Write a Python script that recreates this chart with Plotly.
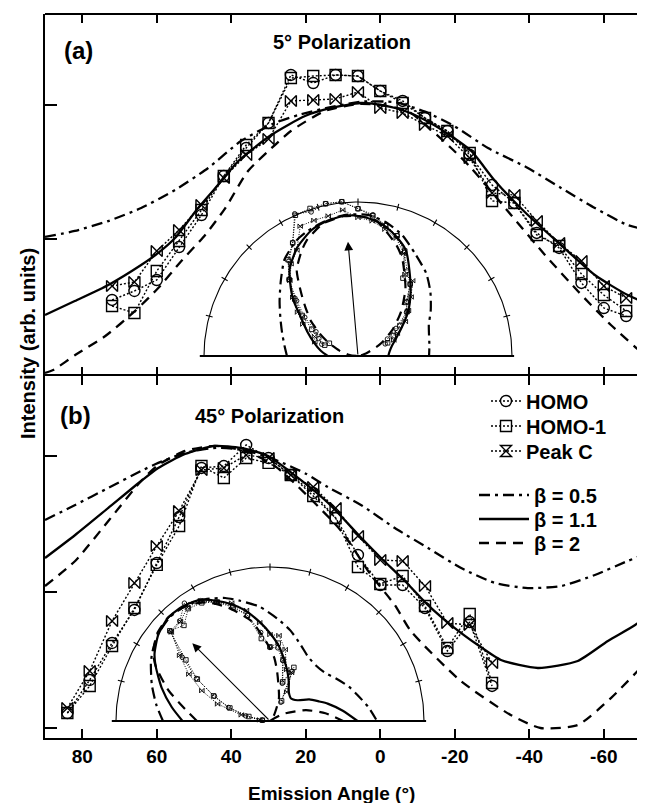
import numpy as np
import plotly.graph_objects as go

# ---------------- data : panel (a) 5 deg polarization ----------------
ang_a = [72, 66, 60, 54, 48, 42, 36, 30, 24, 18, 12, 6, 0, -6, -12, -18, -24, -30, -36, -42, -48, -54, -60, -66]
homo_a = [0.545, 0.612, 0.694, 0.940, 1.179, 1.470, 1.679, 1.866, 2.224, 2.164, 2.224, 2.216, 2.104, 2.030,
          1.903, 1.806, 1.627, 1.403, 1.269, 1.045, 0.933, 0.672, 0.485, 0.425]
homo1_a = [0.500, 0.448, 0.761, 0.985, 1.216, 1.470, 1.701, 1.866, 2.201, 2.216, 2.224, 2.216, 2.104, 2.015,
           1.903, 1.806, 1.642, 1.284, 1.269, 1.030, 0.948, 0.739, 0.582, 0.463]
peakc_a = [0.649, 0.679, 0.910, 1.067, 1.254, 1.455, 1.627, 1.746, 2.030, 2.037, 2.045, 2.097, 1.978, 1.940,
           1.851, 1.769, 1.604, 1.343, 1.328, 1.134, 0.970, 0.836, 0.649, 0.560]

b05_a_ang = [90, 82, 73, 64.2, 55.1, 46.2, 37.4, 28.3, 22, 14, 5, -4, -12, -20, -28.9, -39.6, -48.5, -57.6, -66.4, -73.1, -82, -90]
b05_a_val = [1.015, 1.06, 1.134, 1.231, 1.366, 1.53, 1.731, 1.866, 1.925, 1.98, 2.025, 2.02, 1.95, 1.84, 1.679,
             1.53, 1.381, 1.231, 1.104, 1.06, 1.03, 1.015]
b11_a_ang = [90, 82, 73, 64.2, 59.6, 55.1, 48.9, 42.7, 38.1, 29.3, 20.2, 13.2, 5.2, -0.2, -6.6, -12, -19, -24.4,
             -30.8, -39.6, -48.5, -57.6, -66.4, -73.1, -82, -90]
b11_a_val = [0.433, 0.537, 0.657, 0.806, 0.896, 1.007, 1.231, 1.43, 1.582, 1.776, 1.918, 1.978, 2.015, 2.0, 1.955,
             1.888, 1.769, 1.657, 1.433, 1.179, 0.955, 0.731, 0.582, 0.507, 0.455, 0.433]
b20_a_ang = [90, 87.8, 81.9, 73.8, 65.8, 59.6, 53.4, 47, 41.6, 35.5, 28.3, 24, 14.9, 6, 0, -7.4, -19, -24.4,
             -35.1, -44.2, -53, -61.9, -71, -73.2, -82, -90]
b20_a_val = [0.0, 0.022, 0.134, 0.276, 0.463, 0.634, 0.836, 1.03, 1.231, 1.507, 1.701, 1.806, 1.955, 2.007, 2.0,
             1.955, 1.679, 1.53, 1.179, 0.881, 0.612, 0.358, 0.134, 0.097, 0.03, 0.0]

# ---------------- data : panel (b) 45 deg polarization ----------------
ang_b = [84, 78, 72, 66, 60, 54, 48, 42, 36, 30, 24, 18, 12, 6, 0, -6, -12, -18, -24, -30]
homo_b = [0.110, 0.353, 0.625, 0.868, 1.213, 1.551, 1.912, 1.926, 2.081, 1.985, 1.860, 1.728, 1.544, 1.272,
          1.051, 1.051, 0.882, 0.566, 0.779, 0.309]
homo1_b = [0.110, 0.309, 0.603, 0.882, 1.199, 1.485, 1.926, 1.838, 1.985, 1.949, 1.860, 1.706, 1.544, 1.184,
           1.059, 1.118, 0.897, 0.588, 0.838, 0.331]
peakc_b = [0.147, 0.419, 0.787, 1.066, 1.338, 1.596, 1.897, 1.912, 2.007, 1.985, 1.860, 1.772, 1.618, 1.412,
           1.235, 1.228, 1.044, 0.772, 0.757, 0.478]

b05_b_ang = [90, 81.9, 73, 64.2, 59.6, 52.4, 44, 36, 28, 20, 14, 5.2, -3.9, -12.8, -21.7, -30.8, -39.6, -48.5,
             -57.6, -66.4, -73.2, -82, -90]
b05_b_val = [1.529, 1.64, 1.765, 1.89, 1.949, 2.022, 2.06, 2.04, 1.97, 1.87, 1.77, 1.64, 1.47, 1.324, 1.176,
             1.066, 1.029, 1.044, 1.125, 1.228, 1.301, 1.42, 1.529]
b11_b_ang = [90, 81.9, 73, 64.2, 59.6, 52.4, 44.4, 37.4, 30.1, 24, 18, 12.7, 5.2, -0.2, -6.6, -12.8, -20, -26.2,
             -32.4, -42.3, -53, -61.1, -68.4, -73.2, -82, -90]
b11_b_val = [1.25, 1.419, 1.618, 1.816, 1.912, 2.015, 2.074, 2.059, 2.0, 1.88, 1.75, 1.62, 1.40, 1.25, 1.081,
             0.904, 0.735, 0.61, 0.5, 0.441, 0.493, 0.64, 0.757, 0.86, 1.05, 1.25]
b20_b_ang = [90, 81.9, 73, 64.2, 59.6, 52.4, 44.4, 35.5, 28, 20, 10.5, 2.5, -3.9, -8.2, -21.6, -35, -43, -53,
             -61.9, -73.2, -82, -90]
b20_b_val = [1.044, 1.228, 1.522, 1.816, 1.934, 2.037, 2.074, 2.03, 1.92, 1.72, 1.449, 1.125, 0.904, 0.713,
             0.346, 0.096, 0.0, 0.022, 0.22, 0.537, 0.8, 1.044]

x_ticks = [80, 60, 40, 20, 0, -20, -40, -60]
x_ticktext = ["80", "60", "40", "20", "0", "-20", "-40", "-60"]
pol_a, pol_b = 5, 45          # polarization angles (deg)
arrow_len_a, arrow_len_b = 1.64, 1.57
inset_radius = 2.2

# ---------------- layout geometry (pixels) ----------------
W, H = 645, 803
L, R, T, B = 37, 645, 6, 730
def px_x(px):
    return (px - L) / (R - L)
def px_y(py):
    return (B - py) / (B - T)

FONT = "Liberation Sans, Arial, sans-serif"
def fnt(size):
    return dict(family=FONT, size=size, color="black", weight="bold")

DOT = "2px,2px"
DASH = "10px,7px"
DASHDOT = "11px,5px,3px,5px"

fig = go.Figure()

def theory(ang, val, dash, name, xa, ya, legend=None, width=2.3):
    fig.add_trace(go.Scatter(x=ang, y=val, mode="lines", name=name, xaxis=xa, yaxis=ya,
                             line=dict(color="black", width=width, dash=dash, shape="spline", smoothing=0.6),
                             showlegend=legend is not None, legend=legend or "legend", hoverinfo="skip"))

def data(ang, val, sym, name, xa, ya, legend=None, size=11, lw=1.4):
    fig.add_trace(go.Scatter(x=ang, y=val, mode="lines+markers", name=name, xaxis=xa, yaxis=ya,
                             line=dict(color="black", width=1.4, dash=DOT),
                             marker=dict(symbol=sym, size=size, color="black", line=dict(width=lw, color="black")),
                             showlegend=legend is not None, legend=legend or "legend", hoverinfo="skip"))

# --- main panel curves
theory(b05_a_ang, b05_a_val, DASHDOT, "β = 0.5", "x", "y", "legend4")
theory(b11_a_ang, b11_a_val, "solid", "β = 1.1", "x", "y", "legend5")
theory(b20_a_ang, b20_a_val, DASH, "β = 2", "x", "y", "legend6")
theory(b05_b_ang, b05_b_val, DASHDOT, "β = 0.5", "x2", "y2")
theory(b11_b_ang, b11_b_val, "solid", "β = 1.1", "x2", "y2")
theory(b20_b_ang, b20_b_val, DASH, "β = 2", "x2", "y2")

data(ang_a, homo_a, "circle-open", "HOMO", "x", "y", "legend")
data(ang_a, homo1_a, "square-open", "HOMO-1", "x", "y", "legend2")
data(ang_a, peakc_a, "bowtie-open", "Peak C", "x", "y")
# legend entry for Peak C (hourglass glyph as in the key)
fig.add_trace(go.Scatter(x=[None], y=[None], mode="lines+markers", name="Peak C", xaxis="x", yaxis="y",
                         line=dict(color="black", width=1.4, dash=DOT),
                         marker=dict(symbol="hourglass-open", size=11, color="black", line=dict(width=1.4)),
                         showlegend=True, legend="legend3"))
data(ang_b, homo_b, "circle-open", "HOMO", "x2", "y2")
data(ang_b, homo1_b, "square-open", "HOMO-1", "x2", "y2")
data(ang_b, peakc_b, "bowtie-open", "Peak C", "x2", "y2")

# --- polar insets (r = intensity, angle = emission angle; + to the left)
def polar_xy(ang, val):
    t = np.radians(np.asarray(ang, dtype=float))
    r = np.asarray(val, dtype=float)
    return r * np.sin(t), r * np.cos(t)

def inset(xa, ya, curves, series, pol, alen):
    th = np.linspace(-90, 90, 181)
    ax_, ay_ = polar_xy(th, np.full_like(th, inset_radius))
    fig.add_trace(go.Scatter(x=ax_, y=ay_, mode="lines", xaxis=xa, yaxis=ya, showlegend=False,
                             line=dict(color="black", width=1.1), hoverinfo="skip"))
    tx, ty = [], []
    for a in range(-75, 76, 15):
        x0, y0 = polar_xy([a, a], [inset_radius - 0.05, inset_radius + 0.05])
        tx += list(x0) + [None]
        ty += list(y0) + [None]
    fig.add_trace(go.Scatter(x=tx, y=ty, mode="lines", xaxis=xa, yaxis=ya, showlegend=False,
                             line=dict(color="black", width=1.1), hoverinfo="skip"))
    fig.add_trace(go.Scatter(x=[inset_radius + 0.06, -inset_radius - 0.03], y=[0, 0], mode="lines",
                             xaxis=xa, yaxis=ya, showlegend=False,
                             line=dict(color="black", width=2), hoverinfo="skip"))
    for ang, val, dash in curves:
        px_, py_ = polar_xy(ang, val)
        fig.add_trace(go.Scatter(x=px_, y=py_, mode="lines", xaxis=xa, yaxis=ya, showlegend=False,
                                 line=dict(color="black", width=2.2, dash=dash, shape="spline", smoothing=0.6),
                                 hoverinfo="skip"))
    for ang, val, sym in series:
        px_, py_ = polar_xy(ang, val)
        fig.add_trace(go.Scatter(x=px_, y=py_, mode="lines+markers", xaxis=xa, yaxis=ya, showlegend=False,
                                 line=dict(color="black", width=1, dash="1px,1.5px"),
                                 marker=dict(symbol=sym, size=4.5, color="black", line=dict(width=0.9)),
                                 hoverinfo="skip"))
    tipx, tipy = polar_xy([pol], [alen])
    fig.add_annotation(x=tipx[0], y=tipy[0], ax=0, ay=0, xref=xa, yref=ya, axref=xa, ayref=ya,
                       showarrow=True, arrowhead=2, arrowsize=1.6, arrowwidth=1.1, arrowcolor="black", text="")

inset("x3", "y3",
      [(b05_a_ang, b05_a_val, DASHDOT), (b11_a_ang, b11_a_val, "solid"), (b20_a_ang, b20_a_val, DASH)],
      [(ang_a, homo_a, "circle-open"), (ang_a, homo1_a, "square-open"), (ang_a, peakc_a, "bowtie-open")],
      pol_a, arrow_len_a)
inset("x4", "y4",
      [(b05_b_ang, b05_b_val, DASHDOT), (b11_b_ang, b11_b_val, "solid"), (b20_b_ang, b20_b_val, DASH)],
      [(ang_b, homo_b, "circle-open"), (ang_b, homo1_b, "square-open"), (ang_b, peakc_b, "bowtie-open")],
      pol_b, arrow_len_b)

# dummy traces so the right-hand tick axes are drawn
fig.add_trace(go.Scatter(x=[None], y=[None], xaxis="x", yaxis="y5", showlegend=False))
fig.add_trace(go.Scatter(x=[None], y=[None], xaxis="x2", yaxis="y6", showlegend=False))

ya_rng = [-0.0224, 2.679]
yb_rng = [-0.0735, 2.588]
xr = [90, -73.2]

xcommon = dict(range=xr, tickvals=x_ticks, ticktext=x_ticktext, ticks="inside", ticklen=9, tickwidth=2,
               tickcolor="black", linewidth=2, linecolor="black", mirror="ticks",
               showgrid=False, zeroline=False)
ycommon = dict(ticks="inside", ticklen=12, tickwidth=2, tickcolor="black", showline=True, linewidth=2,
               linecolor="black", showgrid=False, zeroline=False, showticklabels=False)

def inset_axes(cx, cy):
    s = 70.0
    xd = [px_x(cx - 165), px_x(cx + 165)]
    yd = [px_y(cy + 8), px_y(cy - 172)]
    xa = dict(domain=xd, range=[165 / s, -165 / s], visible=False, showgrid=False, zeroline=False)
    ya = dict(domain=yd, range=[-8 / s, 172 / s], visible=False, showgrid=False, zeroline=False)
    return xa, ya

x3, y3 = inset_axes(350, 348)
x4, y4 = inset_axes(262, 713)
x3["anchor"] = "y3"; y3["anchor"] = "x3"
x4["anchor"] = "y4"; y4["anchor"] = "x4"

def leg(xpx, ypx, iw=30):
    return dict(x=px_x(xpx), y=px_y(ypx), xanchor="left", yanchor="middle", font=fnt(20),
                bgcolor="rgba(0,0,0,0)", tracegroupgap=0, itemwidth=iw)

fig.update_layout(
    width=W, height=H,
    margin=dict(l=L, r=W - R, t=T, b=H - B, pad=0),
    plot_bgcolor="rgba(0,0,0,0)", paper_bgcolor="white",
    xaxis=dict(**xcommon, anchor="y", showline=False, showticklabels=False),
    yaxis=dict(**ycommon, domain=[0.5, 1], range=ya_rng, tickvals=[1, 2], anchor="x"),
    xaxis2=dict(**xcommon, anchor="y2", showline=True, showticklabels=True, tickfont=fnt(19), matches="x"),
    yaxis2=dict(**ycommon, domain=[0, 0.5], range=yb_rng, tickvals=[0, 1, 2], anchor="x2"),
    yaxis5=dict(overlaying="y", side="right", anchor="x", range=ya_rng, tickvals=[1, 2], ticks="inside",
                ticklen=6, tickwidth=2, tickcolor="black", showline=False, showgrid=False, zeroline=False,
                showticklabels=False),
    yaxis6=dict(overlaying="y2", side="right", anchor="x2", range=yb_rng, tickvals=[0, 1, 2], ticks="inside",
                ticklen=6, tickwidth=2, tickcolor="black", showline=False, showgrid=False, zeroline=False,
                showticklabels=False),
    xaxis3=x3, yaxis3=y3, xaxis4=x4, yaxis4=y4,
    legend=leg(478, 393), legend2=leg(478, 418), legend3=leg(478, 443),
    legend4=leg(466, 487, 50), legend5=leg(466, 511, 50), legend6=leg(466, 535, 50),
    showlegend=True,
)
# outer top frame line of panel (a)
fig.add_shape(type="line", xref="paper", yref="paper", x0=0, x1=1, y0=1, y1=1,
              line=dict(color="black", width=2))

annots = [
    ("(a)", 70, 43, 24, 0),
    ("5° Polarization", 334, 34, 20, 0),
    ("(b)", 67, 407, 24, 0),
    ("45° Polarization", 261, 408, 20, 0),
    ("Emission Angle (°)", 323, 785, 19, 0),
    ("Intensity (arb. units)", 20, 336, 20, -90),
]
for text, x, y, s, ang in annots:
    fig.add_annotation(text=text, x=px_x(x), y=px_y(y), xref="paper", yref="paper", showarrow=False,
                       xanchor="center", yanchor="middle", font=fnt(s), textangle=ang)

fig.write_html("out.html")
